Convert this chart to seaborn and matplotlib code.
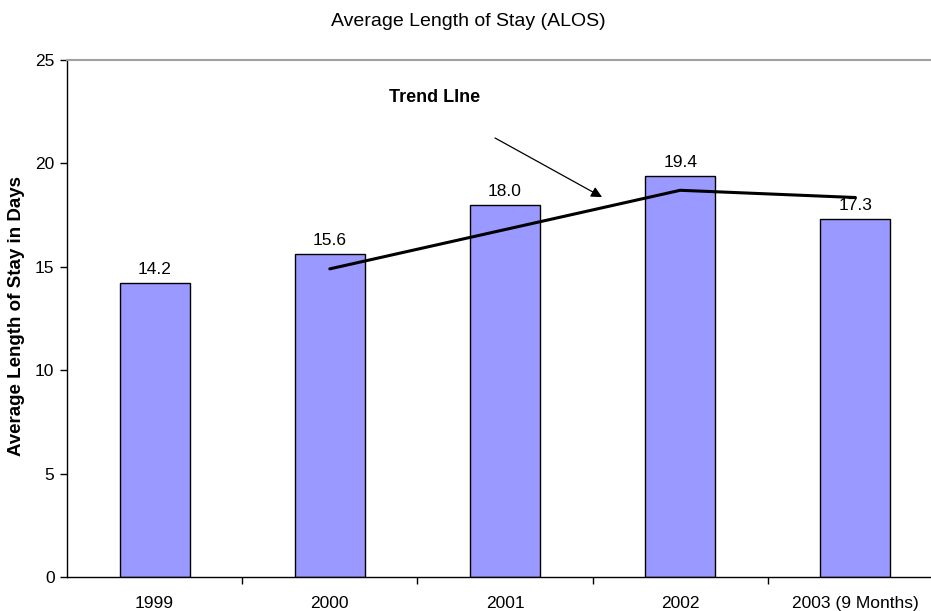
import matplotlib
matplotlib.use("Agg")
import matplotlib.pyplot as plt
import seaborn as sns
import pandas as pd

categories = ["1999", "2000", "2001", "2002", "2003 (9 Months)"]
alos = [14.2, 15.6, 18.0, 19.4, 17.3]
trend_categories = ["2000", "2001", "2002", "2003 (9 Months)"]
trend_values = [14.9, 16.8, 18.7, 18.35]
y_ticks = [0, 5, 10, 15, 20, 25]

sns.set_theme(style="white")
plt.rcParams['font.family'] = ['Liberation Sans', 'DejaVu Sans']
plt.rcParams['text.color'] = 'black'
plt.rcParams['axes.labelcolor'] = 'black'
plt.rcParams['xtick.color'] = 'black'
plt.rcParams['ytick.color'] = 'black'

df = pd.DataFrame({"Year": categories, "ALOS": alos})

fig = plt.figure(figsize=(9.31, 6.11), dpi=100)
ax = fig.add_axes([67 / 931, 34 / 611, (943 - 67) / 931, (577 - 60) / 611])

sns.barplot(data=df, x="Year", y="ALOS", order=categories, color="#9999FF",
            edgecolor="black", linewidth=1.0, width=0.4, saturation=1, ax=ax)

pos = {c: i for i, c in enumerate(categories)}
tx = [pos[c] for c in trend_categories]
ax.plot(tx, trend_values, color="black", linewidth=2.2, zorder=5)

for i, v in enumerate(alos):
    ax.text(i, v + 0.3, f"{v:.1f}", ha="center", va="bottom", fontsize=12.5, color="black")

ax.set_xlim(-0.5, len(categories) - 0.5)
ax.set_ylim(0, 25)
ax.set_yticks(y_ticks)
ax.set_yticklabels([str(t) for t in y_ticks], fontsize=12.5, color="black")
ax.set_xticks(range(len(categories)))
ax.set_xticklabels(categories, fontsize=12.5, color="black")
ax.tick_params(axis="x", which="major", length=0, pad=14)
ax.set_xticks([i + 0.5 for i in range(len(categories) - 1)], minor=True)
ax.tick_params(axis="x", which="minor", length=5, width=1, color="black", direction="out", bottom=True)
ax.tick_params(axis="y", which="major", length=5, width=1, color="black", direction="out", left=True, pad=4)

ax.set_xlabel("")
ax.set_ylabel("Average Length of Stay in Days", fontsize=13.5, fontweight="bold", color="black")
ax.yaxis.set_label_coords(-0.048, 0.504)

ax.spines["right"].set_visible(False)
ax.spines["top"].set_color("#A0A0A0")
ax.spines["top"].set_linewidth(1.5)
ax.spines["left"].set_color("black")
ax.spines["left"].set_linewidth(1.0)
ax.spines["bottom"].set_color("black")
ax.spines["bottom"].set_linewidth(1.0)

ax.annotate("", xy=(2.554, 18.37), xytext=(1.943, 21.23),
            arrowprops=dict(arrowstyle="-|>", color="black", lw=0.9, mutation_scale=16,
                            shrinkA=0, shrinkB=0))
ax.text(1.60, 23.2, "Trend LIne", fontsize=13, fontweight="bold", ha="center", va="center",
        color="black")

fig.text(0.503, 0.964, "Average Length of Stay (ALOS)", ha="center", va="center", fontsize=14,
         color="black")

fig.savefig("out.png", dpi=100)
